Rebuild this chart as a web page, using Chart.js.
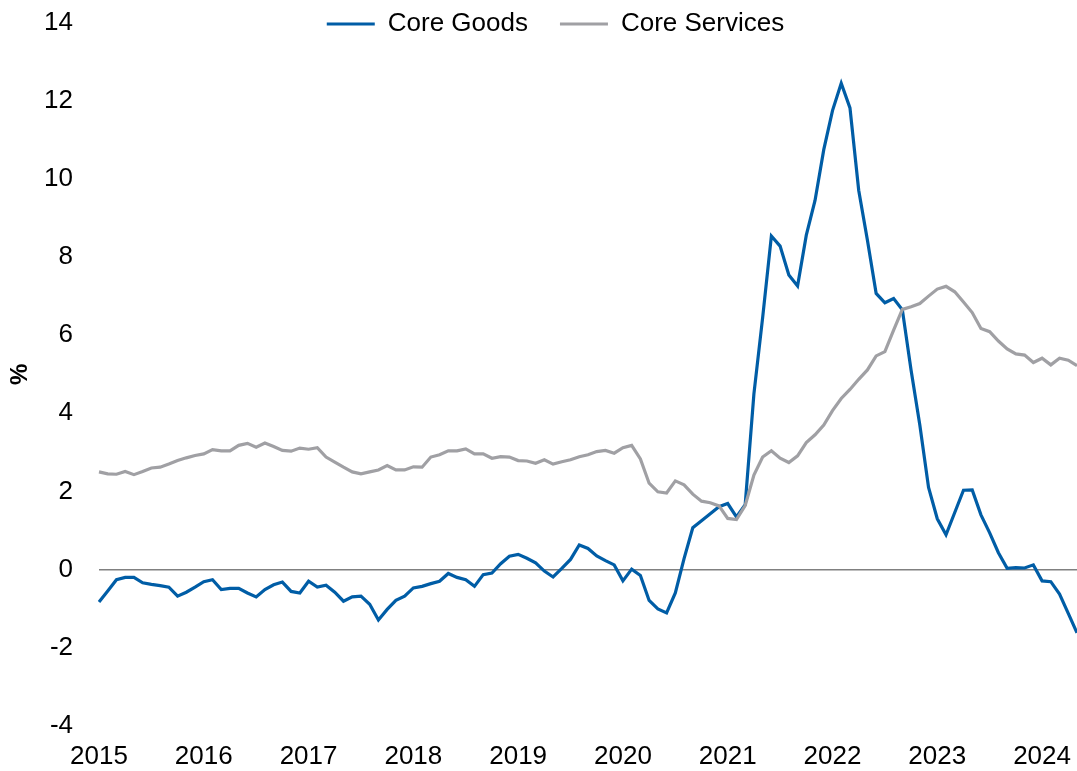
<!DOCTYPE html>
<html>
<head>
<meta charset="utf-8">
<script src="https://cdn.jsdelivr.net/npm/chart.js@4.4.1/dist/chart.umd.min.js"></script>
<style>
  html, body { margin: 0; padding: 0; background: #ffffff; }
  #wrap { width: 1077px; height: 771px; position: relative; }
</style>
</head>
<body>
<div id="wrap"><canvas id="c"></canvas></div>
<script>
// Monthly observations, Jan 2015 .. May 2024
const startYear = 2015;
const monthCount = 113;
const months = [];
for (let i = 0; i < monthCount; i++) {
  const y = startYear + Math.floor(i / 12);
  const m = (i % 12) + 1;
  months.push(y + '-' + (m < 10 ? '0' + m : m));
}

const seriesNames = ['Core Goods', 'Core Services'];

const coreGoods = [
  -0.83, -0.55, -0.26, -0.20, -0.20, -0.34, -0.38, -0.41, -0.45, -0.68, -0.58, -0.45,
  -0.31, -0.26, -0.51, -0.48, -0.48, -0.60, -0.70, -0.51, -0.39, -0.32, -0.56, -0.60,
  -0.30, -0.45, -0.40, -0.58, -0.81, -0.70, -0.68, -0.89, -1.29, -1.02, -0.79, -0.68,
  -0.47, -0.43, -0.36, -0.30, -0.10, -0.20, -0.26, -0.43, -0.13, -0.09, 0.15, 0.34,
  0.39, 0.29, 0.17, -0.04, -0.19, 0.03, 0.26, 0.63, 0.54, 0.35, 0.23, 0.12,
  -0.29, 0.01, -0.15, -0.79, -1.01, -1.11, -0.60, 0.28, 1.07, 1.25, 1.43, 1.61,
  1.69, 1.35, 1.66, 4.50, 6.45, 8.54, 8.28, 7.54, 7.26, 8.56, 9.45, 10.75,
  11.75, 12.45, 11.82, 9.71, 8.43, 7.07, 6.83, 6.94, 6.65, 5.10, 3.70, 2.10,
  1.30, 0.89, 1.46, 2.03, 2.04, 1.40, 0.94, 0.43, 0.03, 0.05, 0.04, 0.12,
  -0.29, -0.31, -0.63, -1.12, -1.62
];

const coreServices = [
  2.50, 2.45, 2.44, 2.51, 2.43, 2.51, 2.60, 2.62, 2.70, 2.79, 2.86, 2.92,
  2.96, 3.07, 3.04, 3.04, 3.18, 3.23, 3.13, 3.24, 3.15, 3.05, 3.03, 3.11,
  3.08, 3.12, 2.88, 2.75, 2.62, 2.50, 2.45, 2.50, 2.55, 2.66, 2.55, 2.55,
  2.63, 2.62, 2.88, 2.94, 3.04, 3.04, 3.09, 2.96, 2.96, 2.85, 2.89, 2.88,
  2.79, 2.78, 2.72, 2.81, 2.70, 2.76, 2.81, 2.89, 2.94, 3.02, 3.05, 2.98,
  3.12, 3.18, 2.83, 2.21, 1.99, 1.96, 2.27, 2.17, 1.93, 1.75, 1.71, 1.63,
  1.31, 1.28, 1.64, 2.42, 2.88, 3.04, 2.85, 2.74, 2.91, 3.25, 3.45, 3.70,
  4.07, 4.38, 4.61, 4.87, 5.11, 5.47, 5.58, 6.13, 6.66, 6.73, 6.81, 7.00,
  7.18, 7.25, 7.11, 6.85, 6.58, 6.17, 6.09, 5.85, 5.65, 5.52, 5.49, 5.30,
  5.41, 5.24, 5.41, 5.36, 5.22
];

const yMin = -4, yMax = 14, yStep = 2;
const yTitle = '%';

const FONT = "'Liberation Sans', Arial, Helvetica, sans-serif";
Chart.defaults.font.family = FONT;
Chart.defaults.color = '#000000';

// Places the legend over the top strip of the plot, as in the reference
const legendPlacer = {
  id: 'legendPlacer',
  afterLayout(chart) {
    const lg = chart.legend;
    if (!lg) return;
    lg.left = 34;
    lg.right = chart.width;
    lg.top = -21;
    lg.bottom = 50;
    lg.width = lg.right - lg.left;
    lg.height = lg.bottom - lg.top;
  }
};

new Chart(document.getElementById('c'), {
  type: 'line',
  data: {
    labels: months,
    datasets: [
      {
        label: seriesNames[0],
        data: coreGoods,
        borderColor: '#005DA6',
        backgroundColor: '#005DA6',
        borderWidth: 3.2,
        pointRadius: 0,
        tension: 0,
        order: 1
      },
      {
        label: seriesNames[1],
        data: coreServices,
        borderColor: '#A0A0A4',
        backgroundColor: '#A0A0A4',
        borderWidth: 3.2,
        pointRadius: 0,
        tension: 0,
        order: 0
      }
    ]
  },
  options: {
    responsive: true,
    maintainAspectRatio: false,
    animation: false,
    devicePixelRatio: 1,
    layout: { padding: { top: 21.7, right: 0, bottom: -1, left: 0 } },
    plugins: {
      tooltip: { enabled: false },
      legend: {
        display: true,
        position: 'top',
        align: 'center',
        maxHeight: 1,
        labels: {
          font: { size: 26, family: FONT },
          color: '#000000',
          boxWidth: 48,
          boxHeight: 0,
          padding: 32,
          sort: (a, b) => a.datasetIndex - b.datasetIndex
        }
      }
    },
    scales: {
      x: {
        type: 'category',
        offset: false,
        grid: {
          display: true,
          drawOnChartArea: false,
          drawTicks: true,
          tickLength: 15,
          color: 'rgba(0,0,0,0)',
          tickColor: 'rgba(0,0,0,0)'
        },
        border: { display: false },
        ticks: {
          autoSkip: false,
          maxRotation: 0,
          minRotation: 0,
          padding: 0,
          font: { size: 26, family: FONT },
          color: '#000000',
          callback: function (value, index) {
            const lab = this.getLabelForValue(value);
            return lab.endsWith('-01') ? lab.slice(0, 4) : '';
          }
        }
      },
      y: {
        min: yMin,
        max: yMax,
        afterFit(scale) { scale.width = 99; },
        grid: {
          drawTicks: true,
          tickLength: 26,
          tickColor: 'rgba(0,0,0,0)',
          color: (ctx) => (ctx.tick && ctx.tick.value === 0 ? '#808080' : 'rgba(0,0,0,0)'),
          lineWidth: 1.5
        },
        border: { display: false },
        ticks: {
          stepSize: yStep,
          padding: 0,
          font: { size: 26, family: FONT },
          color: '#000000'
        },
        title: {
          display: true,
          text: yTitle,
          font: { size: 24, weight: 'bold', family: FONT },
          color: '#000000',
          padding: { top: 6, bottom: 0 }
        }
      }
    }
  },
  plugins: [legendPlacer]
});
</script>
</body>
</html>
